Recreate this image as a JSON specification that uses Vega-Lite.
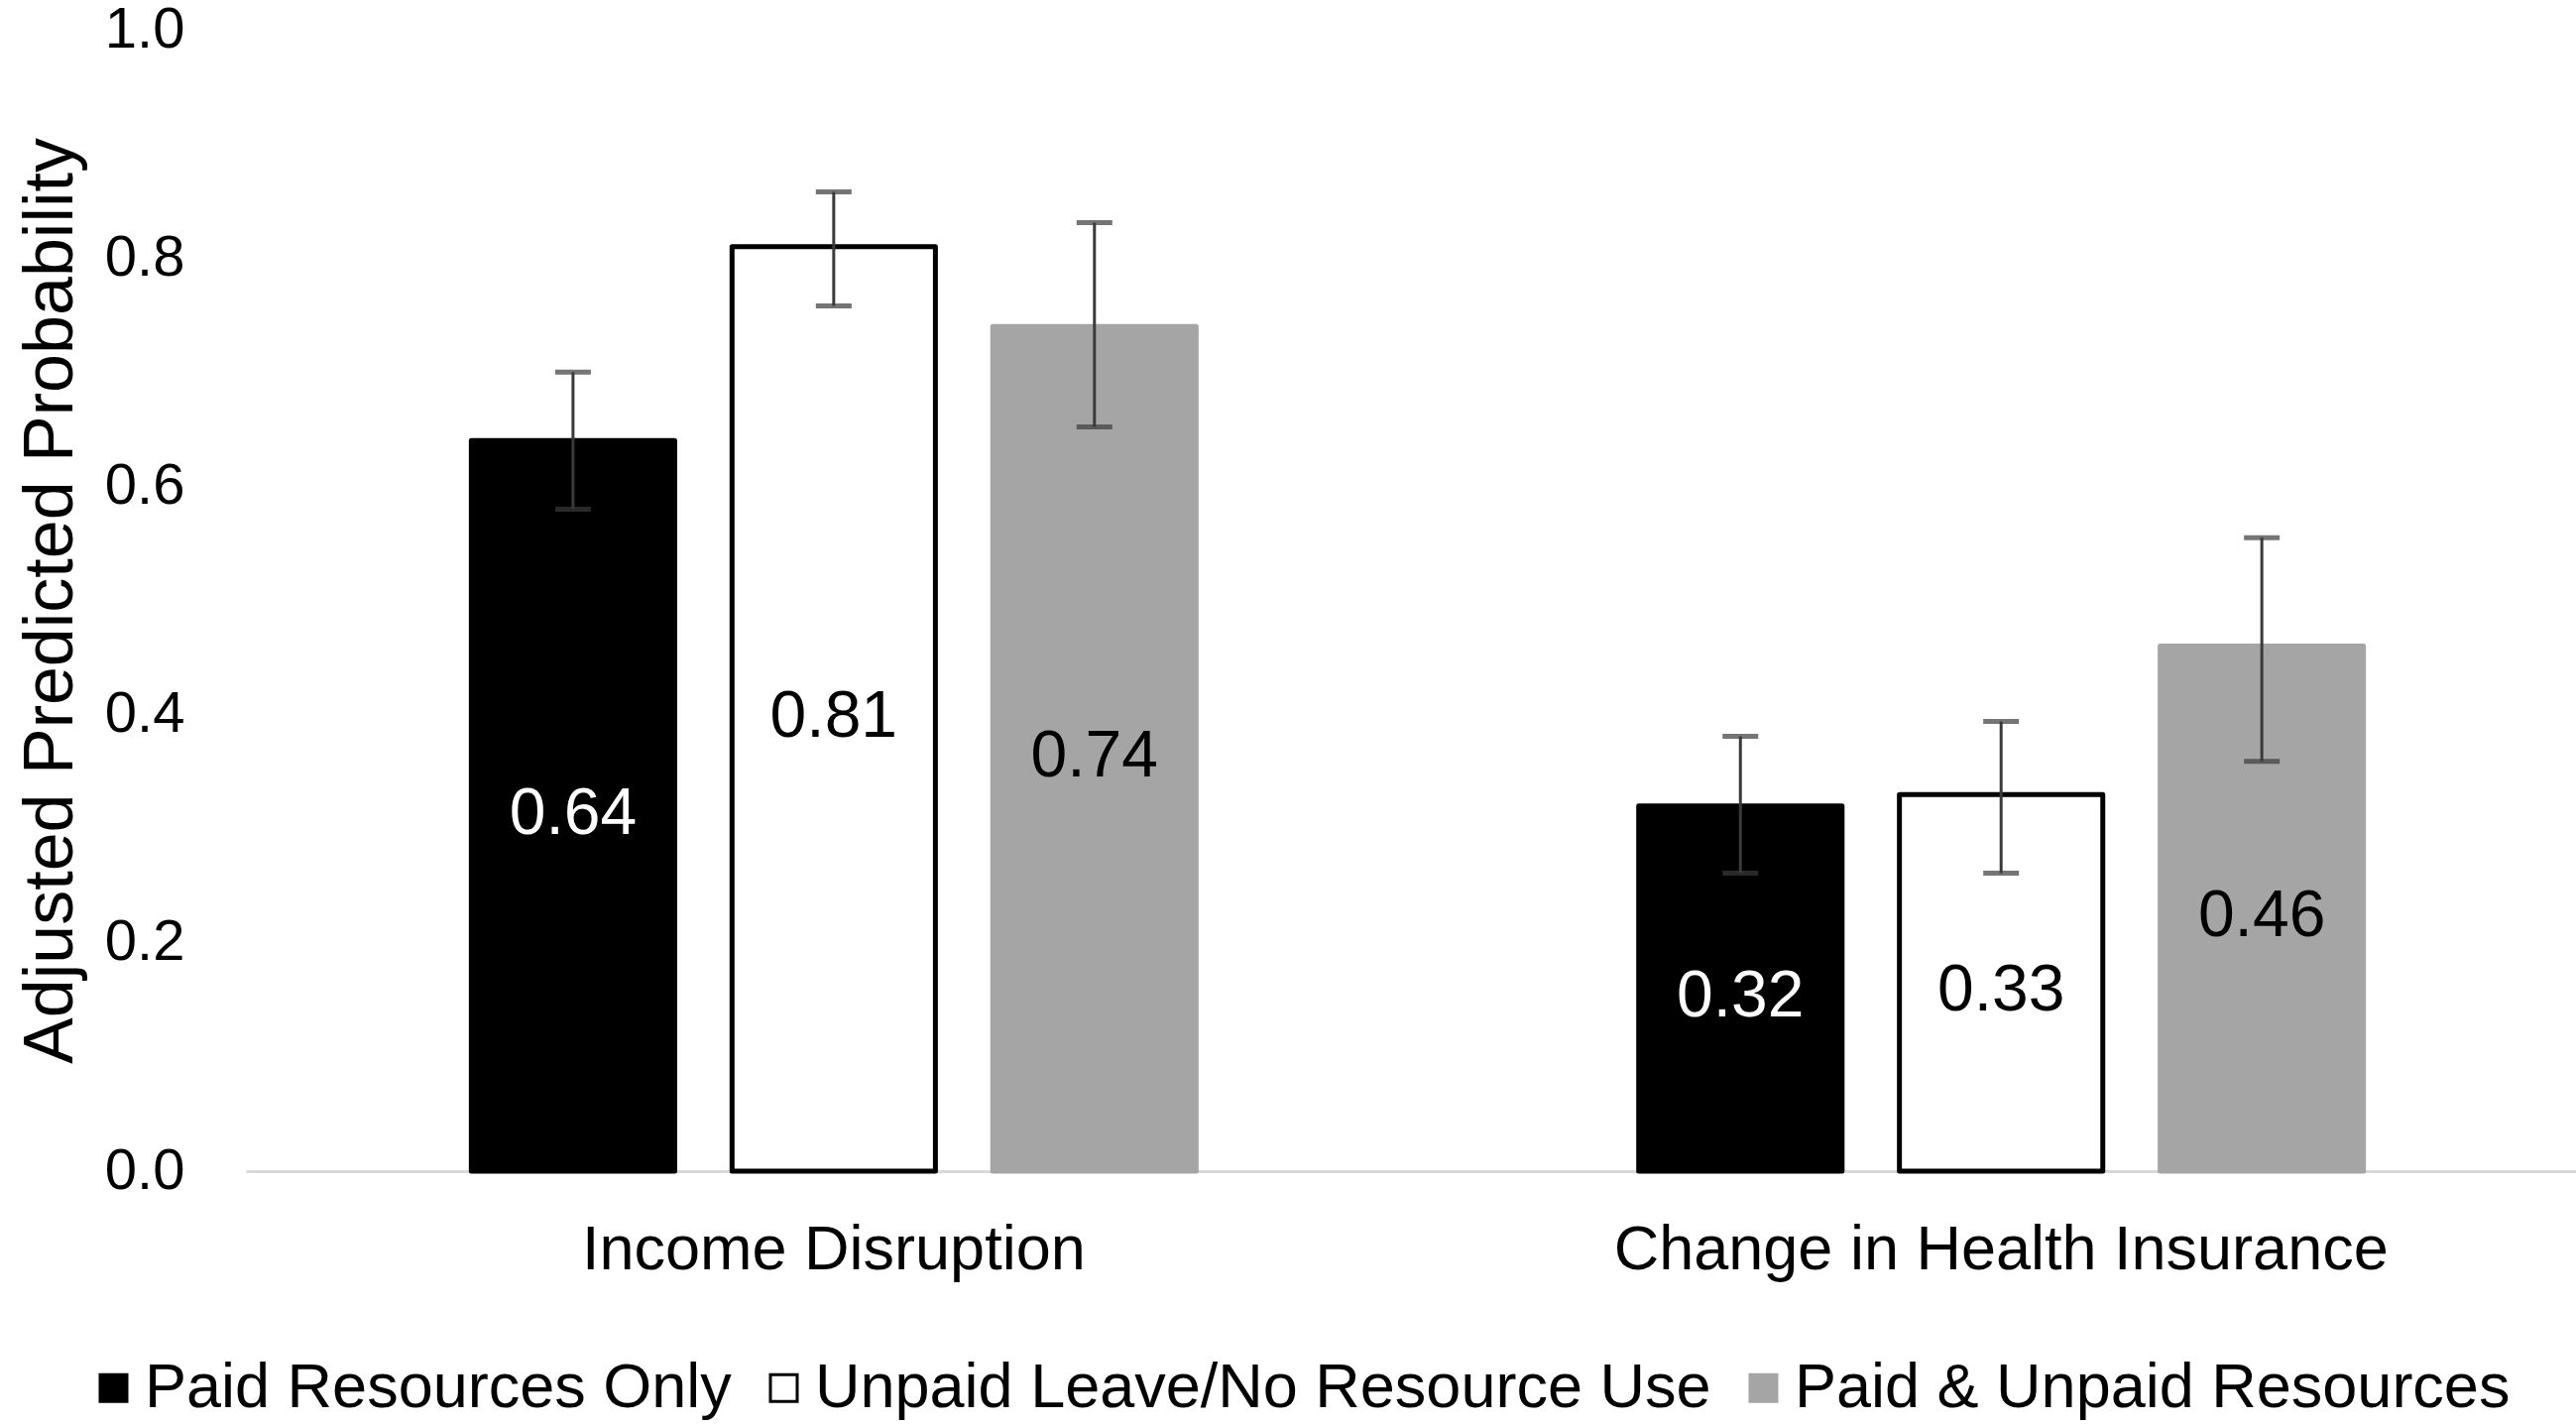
{
  "$schema": "https://vega.github.io/schema/vega-lite/v6.json",
  "width": 2350,
  "height": 1151,
  "autosize": {"type": "none"},
  "padding": {"left": 248, "top": 30, "right": 0, "bottom": 257},
  "background": "white",
  "data": {
    "values": [
      {"outcome": "Income Disruption", "resource": "Paid Resources Only", "value": 0.64, "lo": 0.58, "hi": 0.70},
      {"outcome": "Income Disruption", "resource": "Unpaid Leave/No Resource Use", "value": 0.81, "lo": 0.758, "hi": 0.858},
      {"outcome": "Income Disruption", "resource": "Paid & Unpaid Resources", "value": 0.74, "lo": 0.652, "hi": 0.831},
      {"outcome": "Change in Health Insurance", "resource": "Paid Resources Only", "value": 0.32, "lo": 0.261, "hi": 0.381},
      {"outcome": "Change in Health Insurance", "resource": "Unpaid Leave/No Resource Use", "value": 0.33, "lo": 0.261, "hi": 0.394},
      {"outcome": "Change in Health Insurance", "resource": "Paid & Unpaid Resources", "value": 0.46, "lo": 0.359, "hi": 0.555}
    ]
  },
  "encoding": {
    "x": {
      "field": "outcome",
      "type": "nominal",
      "sort": ["Income Disruption", "Change in Health Insurance"],
      "scale": {"paddingInner": 0.33, "paddingOuter": 0.163, "align": 0.517},
      "title": null,
      "axis": {
        "labelAngle": 0,
        "labelFont": "Liberation Sans",
        "labelFontSize": 63,
        "labelColor": "black",
        "labelPadding": 48,
        "ticks": false,
        "domainColor": "#D9D9D9",
        "domainWidth": 3,
        "labelLimit": 2000
      }
    },
    "xOffset": {
      "field": "resource",
      "type": "nominal",
      "sort": ["Paid Resources Only", "Unpaid Leave/No Resource Use", "Paid & Unpaid Resources"],
      "scale": {"paddingInner": 0.22, "paddingOuter": 0.11}
    }
  },
  "layer": [
    {
      "mark": {"type": "bar", "strokeWidth": 5, "strokeJoin": "round"},
      "encoding": {
        "y": {
          "field": "value",
          "type": "quantitative",
          "scale": {"domain": [0, 1]},
          "title": "Adjusted Predicted Probability",
          "axis": {
            "values": [0, 0.2, 0.4, 0.6, 0.8, 1.0],
            "format": ".1f",
            "grid": false,
            "domain": false,
            "ticks": false,
            "labelFont": "Liberation Sans",
            "labelFontSize": 58,
            "labelColor": "black",
            "labelPadding": 62,
            "titleFont": "Liberation Sans",
            "titleFontSize": 70,
            "titleFontWeight": "normal",
            "titleColor": "black",
            "titlePadding": 18
          }
        },
        "fill": {
          "field": "resource",
          "type": "nominal",
          "sort": ["Paid Resources Only", "Unpaid Leave/No Resource Use", "Paid & Unpaid Resources"],
          "scale": {
            "domain": ["Paid Resources Only", "Unpaid Leave/No Resource Use", "Paid & Unpaid Resources"],
            "range": ["#000000", "#FFFFFF", "#A5A5A5"]
          },
          "title": null,
          "legend": {
            "orient": "none",
            "legendX": -165,
            "legendY": 1338,
            "direction": "horizontal",
            "columns": 3,
            "columnPadding": 21,
            "symbolType": "square",
            "symbolSize": 729,
            "symbolStrokeWidth": 3,
            "labelFont": "Liberation Sans",
            "labelFontSize": 63,
            "labelColor": "black",
            "labelLimit": 2000,
            "labelOffset": 0
          }
        },
        "stroke": {
          "field": "resource",
          "type": "nominal",
          "sort": ["Paid Resources Only", "Unpaid Leave/No Resource Use", "Paid & Unpaid Resources"],
          "scale": {
            "domain": ["Paid Resources Only", "Unpaid Leave/No Resource Use", "Paid & Unpaid Resources"],
            "range": ["#000000", "#000000", "#A5A5A5"]
          },
          "title": null
        }
      }
    },
    {
      "mark": {"type": "rule", "color": "#3A3A3A", "strokeWidth": 3},
      "encoding": {
        "y": {"field": "lo", "type": "quantitative", "title": "Adjusted Predicted Probability"},
        "y2": {"field": "hi"}
      }
    },
    {
      "mark": {"type": "tick", "color": "#3A3A3A", "thickness": 5, "size": 36, "orient": "horizontal"},
      "encoding": {
        "y": {"field": "lo", "type": "quantitative", "title": "Adjusted Predicted Probability"}
      }
    },
    {
      "mark": {"type": "tick", "color": "#3A3A3A", "thickness": 5, "size": 36, "orient": "horizontal"},
      "encoding": {
        "y": {"field": "hi", "type": "quantitative", "title": "Adjusted Predicted Probability"}
      }
    },
    {
      "transform": [{"calculate": "datum.value / 2", "as": "mid"}],
      "mark": {"type": "text", "font": "Liberation Sans", "fontSize": 66, "baseline": "middle", "align": "center", "dy": 8},
      "encoding": {
        "y": {"field": "mid", "type": "quantitative", "title": "Adjusted Predicted Probability"},
        "text": {"field": "value", "type": "quantitative", "format": ".2f"},
        "color": {
          "condition": {"test": "datum.resource === 'Paid Resources Only'", "value": "white"},
          "value": "black"
        }
      }
    }
  ],
  "config": {"view": {"stroke": null}}
}
